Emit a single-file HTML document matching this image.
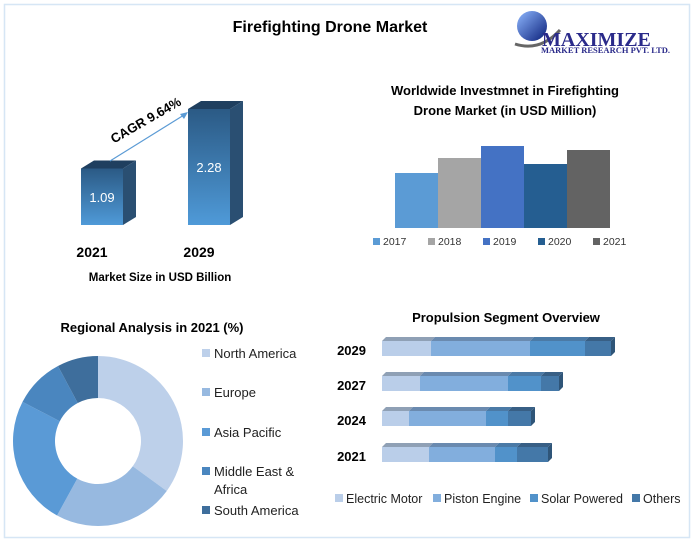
<!DOCTYPE html>
<html><head><meta charset="utf-8"><style>
body{margin:0;width:694px;height:542px;background:#fff;font-family:"Liberation Sans",sans-serif;overflow:hidden}
svg text{font-family:"Liberation Sans",sans-serif}
</style></head><body>
<svg id="s" width="694" height="542" viewBox="0 0 694 542">
<defs>
<linearGradient id="bg1" x1="0" y1="0" x2="0" y2="1"><stop offset="0" stop-color="#2b5a85"/><stop offset="1" stop-color="#4f9ad8"/></linearGradient>
<linearGradient id="glb" x1="0" y1="0" x2="1" y2="1"><stop offset="0" stop-color="#8fb8ff"/><stop offset="1" stop-color="#0a1f7a"/></linearGradient>
</defs>
<rect x="4.5" y="4.5" width="685" height="533" fill="#fff" stroke="#d6e6f5" stroke-width="1.5"/>
<text x="330" y="32" font-size="16" font-weight="bold" text-anchor="middle" fill="#000">Firefighting Drone Market</text>
<g>
<circle cx="532" cy="26" r="15" fill="url(#glb)"/>
<path d="M515 44 Q540 52 560 30" stroke="#666" stroke-width="3" fill="none"/>
<text x="542" y="46" font-size="20" font-weight="bold" fill="#2a2a8a" style="font-family:'Liberation Serif',serif">MAXIMIZE</text>
<text x="541" y="53" font-size="8.5" font-weight="bold" fill="#2a2a8a" style="font-family:'Liberation Serif',serif">MARKET RESEARCH PVT. LTD.</text>
</g>
<g id="mk"></g>
<text x="160" y="281" font-size="11.5" font-weight="bold" text-anchor="middle">Market Size in USD Billion</text>
<g>
<line x1="110" y1="161" x2="184" y2="115" stroke="#5b9bd5" stroke-width="1.2"/>
<polygon points="188,112 180,114 184,119" fill="#5b9bd5"/>
<text x="148" y="124" font-size="13" font-weight="bold" text-anchor="middle" transform="rotate(-30 148 124)">CAGR 9.64%</text>
</g>
<text x="505" y="95" font-size="13" font-weight="bold" text-anchor="middle">Worldwide Investmnet in Firefighting</text>
<text x="505" y="115" font-size="13" font-weight="bold" text-anchor="middle">Drone Market (in USD Million)</text>
<g id="inv"></g>
<text x="152" y="332" font-size="13" font-weight="bold" text-anchor="middle">Regional Analysis in 2021 (%)</text>
<g id="dn"></g>
<text x="506" y="322" font-size="13" font-weight="bold" text-anchor="middle">Propulsion Segment Overview</text>
<g id="pr"></g>
</svg>
<script>
const NS='http://www.w3.org/2000/svg';
function mk(p,t,a,txt){const e=document.createElementNS(NS,t);for(const k in a)e.setAttribute(k,a[k]);if(txt!=null)e.textContent=txt;p.appendChild(e);return e;}

// Market size
const msYears=['2021','2029'];
const msValues=[1.09,2.28];
const msLabels=['1.09','2.28'];
(function(){const g=document.getElementById('mk');const base=225,sc=50;const xs=[81,188];
msValues.forEach((v,i)=>{const h=v*sc+2,x=xs[i],w=42,d=13;const top=base-h;
const f=mk(g,'rect',{x:x,y:top,width:w,height:h,fill:'url(#bg1)'});
mk(g,'polygon',{points:`${x},${top} ${x+d},${top-8} ${x+w+d},${top-8} ${x+w},${top}`,fill:'#1f3f5f'});
mk(g,'polygon',{points:`${x+w},${top} ${x+w+d},${top-8} ${x+w+d},${base-8} ${x+w},${base}`,fill:'#2a4f72'});
const t=mk(g,'text',{x:x+w/2,y:top+h/2+5,'font-size':13,fill:'#fff','text-anchor':'middle'},msLabels[i]);
const y=mk(g,'text',{x:x+w/2-10,y:257,'font-size':14,'font-weight':'bold','text-anchor':'middle'},msYears[i]);});})();

// Investment
const invYears=['2017','2018','2019','2020','2021'];
const invValues=[55,70,82,64,78];
const invColors=['#5b9bd5','#a5a5a5','#4472c4','#255e91','#636363'];
(function(){const g=document.getElementById('inv');const base=228,x0=395,bw=43;
invValues.forEach((v,i)=>{const r=mk(g,'rect',{x:x0+i*bw,y:base-v,width:bw,height:v,fill:invColors[i]});
const lx=373+i*55;const l=mk(g,'g',{});
mk(l,'rect',{x:lx,y:238,width:7,height:7,fill:invColors[i]});mk(l,'text',{x:lx+10,y:245,'font-size':10.5,fill:'#333'},invYears[i]);});})();

// Donut
const regNames=['North America','Europe','Asia Pacific','Middle East & Africa','South America'];
const regValues=[35,23,24.6,9.6,7.8];
const regColors=['#bdd0ea','#97b9e0','#5a9ad6','#4a86bf','#3e6e9c'];
(function(){const g=document.getElementById('dn');const cx=98,cy=441,R=85,r=43;const tot=regValues.reduce((a,b)=>a+b,0);let a=0;
const pt=(ang,rad)=>[cx+rad*Math.sin(ang),cy-rad*Math.cos(ang)];
regValues.forEach((v,i)=>{const a1=a+v/tot*2*Math.PI;const lg=(a1-a)>Math.PI?1:0;const p1=pt(a,R),p2=pt(a1,R),p3=pt(a1,r),p4=pt(a,r);
const p=mk(g,'path',{d:`M${p1} A${R},${R} 0 ${lg} 1 ${p2} L${p3} A${r},${r} 0 ${lg} 0 ${p4}Z`,fill:regColors[i]});a=a1;});
const ly=[357,396,436,475,514];
regNames.forEach((n,i)=>{const l=mk(g,'g',{});
mk(l,'rect',{x:202,y:ly[i]-8,width:8,height:8,fill:regColors[i]});
if(i==3){mk(l,'text',{x:214,y:ly[i]+1,'font-size':13,fill:'#222'},'Middle East &');mk(l,'text',{x:214,y:ly[i]+19,'font-size':13,fill:'#222'},'Africa');}
else mk(l,'text',{x:214,y:ly[i]+1,'font-size':13,fill:'#222'},n);});})();

// Propulsion
const prYears=['2029','2027','2024','2021'];
const prElectric=[49,38,27,47];
const prPiston=[99,88,77,66];
const prSolar=[55,33,22,22];
const prOthers=[26,18,23,31];
const prNames=['Electric Motor','Piston Engine','Solar Powered','Others'];
const prColors=['#bacee9','#82aedd','#5192ca','#4478a8'];
const prTops=['#8fa0b5','#6a8aaf','#4b7aa6','#385f85'];
(function(){const g=document.getElementById('pr');const x0=382,h=15,d=4;const ys=[341,376,411,447];const series=[prElectric,prPiston,prSolar,prOthers];
prYears.forEach((yr,i)=>{let x=x0;const y=ys[i];
series.forEach((s,j)=>{const w=s[i];const r=mk(g,'rect',{x:x,y:y,width:w,height:h,fill:prColors[j]});
mk(g,'polygon',{points:`${x},${y} ${x+d},${y-d} ${x+w+d},${y-d} ${x+w},${y}`,fill:prTops[j]});x+=w;});
mk(g,'polygon',{points:`${x},${y} ${x+d},${y-d} ${x+d},${y+h-d} ${x},${y+h}`,fill:'#2f5578'});
const t=mk(g,'text',{x:366,y:y+14,'font-size':13,'font-weight':'bold','text-anchor':'end'},yr);});
const lx=[335,433,530,632];
prNames.forEach((n,j)=>{const l=mk(g,'g',{});
mk(l,'rect',{x:lx[j],y:494,width:8,height:8,fill:prColors[j]});mk(l,'text',{x:lx[j]+11,y:503,'font-size':12.5,fill:'#222'},n);});})();
</script>
</body></html>
